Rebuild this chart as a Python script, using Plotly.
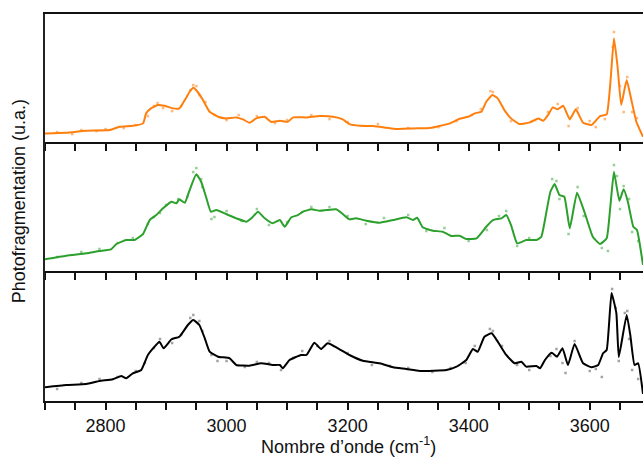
import plotly.graph_objects as go
from plotly.subplots import make_subplots

# ---------------- data (arbitrary units) ----------------
orange_x = [2700, 2735, 2768, 2807, 2823, 2845, 2862, 2867, 2875, 2886, 2897, 2911, 2922, 2931, 2939, 2945,
            2952, 2961, 2972, 2986, 2999, 3016, 3027, 3038, 3049, 3063, 3074, 3088, 3101, 3110, 3132, 3154,
            3176, 3192, 3203, 3220, 3242, 3264, 3280, 3308, 3336, 3352, 3369, 3385, 3399, 3410, 3421, 3429,
            3439, 3448, 3459, 3470, 3484, 3501, 3515, 3523, 3531, 3539, 3547, 3556, 3567, 3577, 3589, 3603,
            3617, 3628, 3634, 3640, 3646, 3652, 3661, 3670, 3677, 3688]
orange_y = [8.7, 9.3, 11.3, 12, 15.3, 16.3, 18.7, 28.7, 33.7, 37, 36.3, 33.7, 33.7, 42, 50.3, 54.3,
            50.3, 42, 30.3, 25.3, 23.7, 24.7, 22.7, 19.3, 23.7, 25.3, 20, 21.3, 20.3, 24.7, 24.7, 26,
            25.3, 22.7, 18, 16.3, 16, 14.3, 13, 13.7, 14, 16, 18.7, 23.3, 25.3, 28.7, 30.3, 40.3,
            47, 43.7, 32, 23.7, 18, 19.7, 23.7, 21.3, 27, 34.7, 32.7, 36.3, 22.7, 32.7, 19.3, 17,
            26, 27.7, 58.7, 103.7, 75.3, 37, 62, 38.7, 20.3, 5.3]

green_x = [2700, 2735, 2768, 2790, 2809, 2818, 2834, 2848, 2862, 2873, 2884, 2895, 2909, 2917, 2922, 2931,
           2939, 2950, 2958, 2966, 2974, 2983, 2999, 3016, 3033, 3041, 3052, 3063, 3076, 3088, 3096, 3107,
           3118, 3126, 3140, 3154, 3165, 3181, 3192, 3203, 3214, 3231, 3253, 3275, 3297, 3308, 3315, 3324,
           3341, 3357, 3371, 3385, 3396, 3413, 3429, 3440, 3454, 3462, 3470, 3480, 3495, 3512, 3520, 3528,
           3535, 3542, 3550, 3558, 3567, 3579, 3592, 3605, 3617, 3628, 3634, 3640, 3649, 3656, 3663, 3672,
           3678, 3688]
green_y = [11.7, 15.3, 17.7, 20, 21.7, 27, 31, 31, 37, 51, 56, 62.7, 69.3, 67.7, 71.7, 68.3,
           81, 96.7, 89.3, 74.3, 59.3, 61, 57, 52.7, 49.3, 52.7, 59.3, 52.7, 47.7, 51, 44.3, 53.7,
           56, 59.3, 61.7, 60.3, 61, 61.7, 57, 51.7, 52.7, 50.3, 48.3, 51, 53.7, 51, 53.3, 43.7,
           40.3, 39.3, 35, 35.3, 32, 32.7, 44.3, 51, 52.7, 56, 46, 27.7, 31, 31, 34.3, 57.7,
           79.3, 87, 76, 74.3, 42.7, 78.3, 57.7, 34.3, 27, 32.7, 64.3, 99.3, 70.3, 81.7, 69.3, 44.3,
           41, 6]

black_x = [2700, 2735, 2768, 2790, 2812, 2826, 2834, 2845, 2859, 2870, 2881, 2889, 2896, 2909, 2922, 2936,
           2945, 2955, 2964, 2972, 2986, 3005, 3016, 3038, 3057, 3076, 3088, 3093, 3104, 3123, 3132, 3145,
           3156, 3167, 3184, 3203, 3225, 3253, 3275, 3297, 3319, 3341, 3363, 3380, 3396, 3407, 3415, 3426,
           3438, 3448, 3462, 3476, 3487, 3495, 3512, 3518, 3526, 3537, 3546, 3555, 3564, 3575, 3589, 3603,
           3614, 3622, 3628, 3636, 3644, 3648, 3661, 3667, 3674, 3680, 3688]
black_y = [13.7, 16, 17, 20, 21.7, 25, 22.7, 27.7, 31, 46, 54.3, 59.3, 52.7, 61.7, 64.3, 76,
           81, 76, 62.7, 49.3, 44.3, 42.7, 36, 35.3, 37.7, 36, 36, 32.7, 41, 46, 46, 58.3,
           52, 57.7, 52.7, 46, 40.3, 37.7, 33.7, 32, 30, 30.3, 31, 34.3, 41, 52, 49.3, 64.3,
           67.7, 59.3, 46, 37.7, 39.3, 34.3, 35, 32.7, 41, 48.3, 44.3, 52.7, 36, 57, 37.7, 33.7,
           36, 47.7, 51, 108, 87.7, 44, 86, 66, 36, 37.7, 7]

# raw (unsmoothed) measurement points
orange_raw_x = [2720, 2745, 2760, 2785, 2800, 2830, 2850, 2870, 2880, 2886, 2895, 2910, 2925, 2940, 2945,
                2950, 2955, 2965, 2980, 3000, 3020, 3050, 3080, 3100, 3140, 3170, 3200, 3250, 3300, 3350,
                3380, 3405, 3420, 3436, 3440, 3470, 3510, 3531, 3547, 3565, 3580, 3600, 3610, 3625, 3638,
                3640, 3650, 3656, 3662, 3670, 3678]
orange_raw_y = [10, 8, 12, 11, 13, 14, 17, 26, 36, 39, 34, 31, 36, 52, 57,
                56, 47, 40, 27, 22, 27, 26, 19, 22, 27, 23, 20, 18, 14, 15,
                21, 27, 33, 51, 50, 21, 22, 30, 38, 16, 34, 21, 15, 23, 95,
                110, 56, 30, 65, 30, 24]

green_raw_x = [2720, 2760, 2790, 2820, 2845, 2870, 2880, 2890, 2900, 2920, 2935, 2945, 2950, 2958, 2960,
               2975, 2980, 3000, 3025, 3050, 3070, 3100, 3140, 3170, 3200, 3230, 3260, 3300, 3330, 3360,
               3400, 3430, 3450, 3462, 3480, 3500, 3538, 3545, 3550, 3565, 3580, 3590, 3620, 3630, 3640,
               3645, 3650, 3656, 3665, 3670, 3680]
green_raw_y = [14, 19, 22, 28, 33, 47, 54, 58, 66, 72, 74, 99, 103, 92, 84,
               52, 54, 60, 50, 62, 46, 49, 64, 64, 55, 47, 53, 56, 40, 43,
               30, 41, 55, 60, 25, 33, 92, 90, 72, 37, 84, 55, 23, 20, 106,
               95, 62, 85, 72, 39, 30]

black_raw_x = [2720, 2760, 2790, 2820, 2850, 2865, 2880, 2890, 2910, 2925, 2940, 2945, 2955, 2960, 2975,
               2985, 3000, 3030, 3050, 3070, 3090, 3110, 3125, 3150, 3170, 3200, 3240, 3270, 3300, 3340,
               3370, 3395, 3410, 3435, 3440, 3455, 3480, 3500, 3535, 3545, 3555, 3560, 3575, 3600, 3610,
               3620, 3637, 3643, 3648, 3658, 3662, 3665, 3670, 3680]
black_raw_y = [12, 18, 22, 24, 30, 38, 53, 62, 58, 66, 83, 86, 80, 70, 46,
               40, 40, 34, 39, 38, 31, 43, 50, 55, 60, 48, 36, 35, 33, 29,
               33, 38, 55, 72, 70, 55, 36, 31, 45, 52, 38, 28, 60, 30, 32,
               24, 112, 93, 40, 88, 90, 62, 31, 22]

x_ticks = [2800, 3000, 3200, 3400, 3600]

# ---------------- figure ----------------
FONT = "Arial, Liberation Sans, sans-serif"
fig = make_subplots(rows=3, cols=1, shared_xaxes=True, vertical_spacing=0)

panels = [
    (orange_x, orange_y, orange_raw_x, orange_raw_y, "#ff7f0e", "rgba(255,127,14,0.55)"),
    (green_x, green_y, green_raw_x, green_raw_y, "#2ca02c", "rgba(44,160,44,0.5)"),
    (black_x, black_y, black_raw_x, black_raw_y, "#000000", "rgba(90,90,90,0.55)"),
]
for i, (x, y, rx, ry, col, rcol) in enumerate(panels, start=1):
    fig.add_trace(go.Scatter(x=rx, y=ry, mode="markers",
                             marker=dict(size=2.5, color=rcol, symbol="square"),
                             showlegend=False, hoverinfo="skip"), row=i, col=1)
    fig.add_trace(go.Scatter(x=x, y=y, mode="lines",
                             line=dict(color=col, width=2, shape="spline", smoothing=0.4),
                             showlegend=False), row=i, col=1)

domains = [[0.669, 1.0], [0.336, 0.669], [0.0, 0.336]]
heights = [128, 129, 130]
for i in range(1, 4):
    fig.update_yaxes(row=i, col=1, domain=domains[i - 1], range=[0, heights[i - 1]],
                     showline=True, linecolor="#222", linewidth=1.5,
                     showticklabels=False, ticks="", showgrid=False, zeroline=False)
    fig.update_xaxes(row=i, col=1, range=[2700, 3688], showline=True, linecolor="#111",
                     linewidth=2, ticks="outside", ticklen=7, tickwidth=1.5, tickcolor="#111",
                     tickvals=x_ticks, showticklabels=(i == 3),
                     minor=dict(dtick=50, tick0=2700, ticks="outside", ticklen=7,
                                tickwidth=1.5, tickcolor="#111", showgrid=False),
                     showgrid=False, zeroline=False,
                     mirror=(i == 1),
                     tickfont=dict(family=FONT, size=18, color="#111"))

fig.add_annotation(text="Nombre d’onde (cm<sup>-1</sup>)", xref="paper", yref="paper",
                   x=0.508, y=-0.116, xanchor="center", yanchor="middle", showarrow=False,
                   font=dict(family=FONT, size=18, color="#111"))
fig.add_annotation(text="Photofragmentation (u.a.)", xref="paper", yref="paper",
                   x=-0.043, y=0.517, xanchor="center", yanchor="middle", textangle=-90,
                   showarrow=False, font=dict(family=FONT, size=18, color="#111"))

fig.update_layout(width=643, height=457, margin=dict(l=45, r=0, t=14, b=56),
                  plot_bgcolor="white", paper_bgcolor="white")
fig.write_html("out.html", config={"displayModeBar": False})

# remove the default page margin so the figure fills the window exactly
with open("out.html", "r", encoding="utf-8") as f:
    html = f.read()
html = html.replace("<head>", "<head><style>html,body{margin:0;padding:0;overflow:hidden;}</style>", 1)
with open("out.html", "w", encoding="utf-8") as f:
    f.write(html)
